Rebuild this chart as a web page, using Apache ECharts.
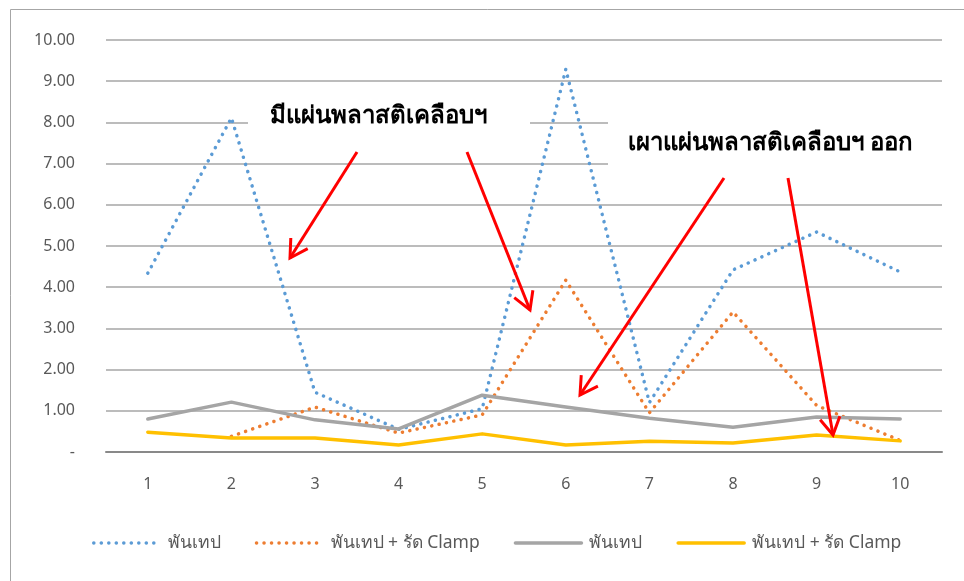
<!DOCTYPE html>
<html>
<head>
<meta charset="utf-8">
<script src="https://cdn.jsdelivr.net/npm/echarts@6/dist/echarts.min.js"></script>
<style>
html,body{margin:0;padding:0;background:#fff;}
#chart{width:964px;height:581px;}
</style>
</head>
<body>
<div id="chart"></div>
<script>
const categories = ['1','2','3','4','5','6','7','8','9','10'];
const seriesNames = ['พันเทป','พันเทป + รัด Clamp','พันเทป','พันเทป + รัด Clamp'];
const blueValues   = [4.34, 8.11, 1.45, 0.55, 1.05, 9.29, 1.20, 4.42, 5.34, 4.37];
const orangeValues = [null, 0.38, 1.09, 0.46, 0.90, 4.17, 0.95, 3.40, 1.13, 0.28];
const grayValues   = [0.80, 1.21, 0.78, 0.56, 1.38, 1.09, 0.82, 0.60, 0.85, 0.80];
const yellowValues = [0.48, 0.34, 0.34, 0.17, 0.44, 0.17, 0.26, 0.22, 0.41, 0.27];
const yTicks = {min: 0, max: 10, interval: 1};
const annotation1 = 'มีแผ่นพลาสติเคลือบฯ';
const annotation2 = 'เผาแผ่นพลาสติเคลือบฯ ออก';

const FONT = 'Tahoma, "Noto Sans", "DejaVu Sans", sans-serif';
const colors = ['#5b9bd5', '#ed7d31', '#a5a5a5', '#ffc000'];

function arrow(x1, y1, x2, y2) {
  const ang = Math.atan2(y1 - y2, x1 - x2);
  const L = 20, a = Math.PI / 6;
  const w1 = [x2 + L * Math.cos(ang + a), y2 + L * Math.sin(ang + a)];
  const w2 = [x2 + L * Math.cos(ang - a), y2 + L * Math.sin(ang - a)];
  return [
    {type: 'line', z: 100, shape: {x1, y1, x2, y2}, style: {stroke: '#ff0000', lineWidth: 3}},
    {type: 'polyline', z: 100, shape: {points: [w1, [x2, y2], w2]}, style: {stroke: '#ff0000', lineWidth: 3, fill: null}}
  ];
}

const chart = echarts.init(document.getElementById('chart'));
const dotted = {type: [0.1, 7.4], cap: 'round'};
const names = [0,1,2,3].map(i => seriesNames[i] + '\u200b'.repeat(i));
const option = {
  animation: false,
  backgroundColor: '#fff',
  color: colors,
  grid: {left: 106, right: 22, top: 40, bottom: 129, containLabel: false},
  legend: {
    bottom: 29,
    left: 92,
    padding: 0,
    itemWidth: 66,
    itemHeight: 12,
    itemGap: 34,
    itemStyle: {opacity: 0},
    lineStyle: {width: 3.5},
    textStyle: {fontFamily: FONT, fontSize: 17.5, color: '#595959', padding: [0, 0, 0, 3]},
    data: names
  },
  xAxis: {
    type: 'category',
    data: categories,
    boundaryGap: true,
    axisLine: {lineStyle: {color: '#898989', width: 2}},
    axisTick: {show: false},
    axisLabel: {fontFamily: FONT, fontSize: 16, color: '#595959', margin: 24}
  },
  yAxis: {
    type: 'value',
    min: yTicks.min, max: yTicks.max, interval: yTicks.interval,
    axisLine: {show: false},
    axisTick: {show: false},
    splitLine: {lineStyle: {color: '#a6a6a6', width: 1.5}},
    axisLabel: {
      fontFamily: FONT, fontSize: 16, color: '#595959', margin: 31,
      formatter: v => v === 0 ? '-' : v.toFixed(2)
    }
  },
  series: [
    {name: names[0], type: 'line', data: blueValues, symbol: 'none', lineStyle: Object.assign({width: 3.5, color: colors[0]}, dotted)},
    {name: names[1], type: 'line', data: orangeValues, symbol: 'none', lineStyle: Object.assign({width: 3.5, color: colors[1]}, dotted)},
    {name: names[2], type: 'line', data: grayValues, symbol: 'none', lineStyle: {width: 3.5, color: colors[2], cap: 'round', join: 'round'}},
    {name: names[3], type: 'line', data: yellowValues, symbol: 'none', lineStyle: {width: 3.5, color: colors[3], cap: 'round', join: 'round'}}
  ],
  graphic: [
    {type: 'rect', z: -1, silent: true, shape: {x: 10.5, y: 9.5, width: 1200, height: 1200}, style: {fill: null, stroke: '#a6a6a6', lineWidth: 1}},
    {type: 'rect', z: 50, shape: {x: 248, y: 84, width: 282, height: 58}, style: {fill: '#fff'}},
    {type: 'text', z: 60, left: 270, top: 104, style: {text: annotation1, font: 'bold 24px ' + FONT, fill: '#000'}},
    {type: 'rect', z: 50, shape: {x: 608, y: 118, width: 336, height: 58}, style: {fill: '#fff'}},
    {type: 'text', z: 60, left: 628, top: 131, style: {text: annotation2, font: 'bold 24px ' + FONT, fill: '#000'}}
  ].concat(arrow(357, 152, 290, 258), arrow(467, 152, 530, 310), arrow(724, 178, 580, 395), arrow(788, 178, 833, 435))
};
chart.setOption(option);
</script>
</body>
</html>
